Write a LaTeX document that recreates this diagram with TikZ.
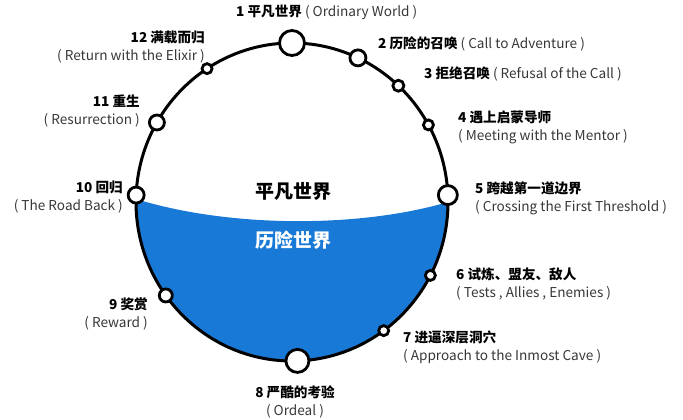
\documentclass[tikz,border=0pt]{standalone}
\usepackage{fontspec}
\setmainfont{Noto Sans CJK SC}
\usetikzlibrary{calc}
\definecolor{advblue}{RGB}{24,122,214}
\definecolor{engrey}{RGB}{55,55,55}
\newcommand{\eng}[1]{{\color{engrey}#1}}

\begin{document}
\begin{tikzpicture}[x=1pt,y=1pt,
    stage/.style={circle,draw=black,line width=2.8pt,fill=white,inner sep=0pt,minimum size=#1},
    lbl/.style={font=\fontsize{13.6}{18}\selectfont,inner sep=0pt},
    world/.style={font=\fontsize{19}{20}\selectfont\bfseries,inner sep=0pt}
  ]
    \useasboundingbox (0,0) rectangle (683,420);
    \coordinate (c) at (292,218);

    % points of the journey on the circle
    \foreach \n/\a in {1/90,2/65,3/47,4/29,5/2.5,6/-27.5,7/-54,8/-88,9/-144,10/177.5,11/150,12/123}
      {\coordinate (p\n) at ($(c)+(\a:156 and 159)$);}

    % special world below the threshold
    \begin{scope}
      \clip (c) ellipse [x radius=156, y radius=159];
      \fill[advblue] ([yshift=-4pt]p10) .. controls (230,192) and (360,192) .. ([yshift=-7pt]p5)
        -- (470,0) -- (110,0) -- cycle;
    \end{scope}
    \draw[line width=3pt] (c) ellipse [x radius=156, y radius=159];

    \foreach \n/\s in {1/25pt,2/16pt,3/11pt,4/10pt,5/19pt,6/10pt,
                       7/10pt,8/23pt,9/13pt,10/16pt,11/15pt,12/10pt}
      {\node[stage=\s] (m\n) at (p\n) {};}

    \node[world] (ordinary) at (293,229) {平凡世界};
    \node[world,text=white] (special) at (293,180) {历险世界};

    \node[lbl,anchor=west] (l1) at (236,408) {\textbf{1 平凡世界} \eng{( Ordinary World )}};
    \node[lbl,anchor=west] (l2) at (378,376) {\textbf{2 历险的召唤} \eng{( Call to Adventure )}};
    \node[lbl,anchor=west] (l3) at (424,346) {\textbf{3 拒绝召唤} \eng{( Refusal of the Call )}};
    \node[lbl,anchor=west,align=left] (l4) at (458,293)
      {\textbf{4 遇上启蒙导师}\\ \eng{( Meeting with the Mentor )}};
    \node[lbl,anchor=west,align=left] (l5) at (475,222)
      {\textbf{5 跨越第一道边界}\\ \eng{( Crossing the First Threshold )}};
    \node[lbl,anchor=west,align=left] (l6) at (456,135.5)
      {\textbf{6 试炼、盟友、敌人}\\ \eng{( Tests , Allies , Enemies )}};
    \node[lbl,anchor=west,align=left] (l7) at (403,72.5)
      {\textbf{7 进逼深层洞穴}\\ \eng{( Approach to the Inmost Cave )}};
    \node[lbl,align=center] (l8) at (295,18)
      {\textbf{8 严酷的考验}\\ \eng{( Ordeal )}};
    \node[lbl,anchor=east,align=right] (l9) at (148,106.5)
      {\textbf{9 奖赏}\\ \eng{( Reward )}};
    \node[lbl,anchor=east,align=right] (l10) at (123,222.5)
      {\textbf{10 回归}\\ \eng{( The Road Back )}};
    \node[lbl,anchor=east,align=right] (l11) at (140,308.5)
      {\textbf{11 重生}\\ \eng{( Resurrection )}};
    \node[lbl,anchor=east,align=right] (l12) at (205,373)
      {\textbf{12 满载而归}\\ \eng{( Return with the Elixir )}};
\end{tikzpicture}
\end{document}
